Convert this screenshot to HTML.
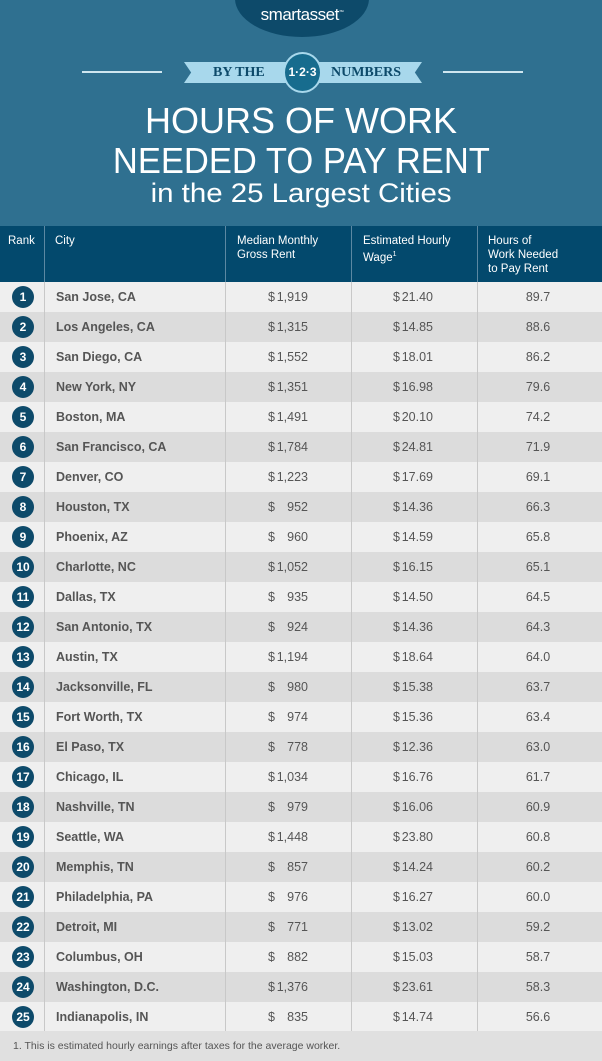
<!DOCTYPE html>
<html><head><meta charset="utf-8"><style>
*{margin:0;padding:0;box-sizing:border-box}
body{width:602px;height:1061px;overflow:hidden;background:#2f7090;font-family:"Liberation Sans",sans-serif;position:relative}
.logo{position:absolute;left:235px;top:-40px;width:134px;height:77px;border-radius:50%;background:#0d4a6a;color:#fff;text-align:center}
.logo span{position:absolute;left:0;right:0;top:45px;font-size:17px;letter-spacing:-0.5px}
.hl{position:absolute;top:71px;height:2px;background:#cfe6f0;width:80px}
.ban{position:absolute;left:184px;top:62px;width:238px;height:21px;background:#a8d8ec;clip-path:polygon(0 0,100% 0,97% 50%,100% 100%,0 100%,3% 50%);color:#0d4a6a;font-family:"Liberation Serif",serif;font-weight:bold;font-size:14px;line-height:22px}
.circ{position:absolute;left:283px;top:52px;width:39px;height:41px;border-radius:50%;background:#176c8e;border:2px solid #a8d8ec;color:#fff;font-size:12px;font-weight:bold;text-align:center;line-height:37px}
.t{position:absolute;left:0;right:0;text-align:center;color:#fff}
.t span{display:inline-block}
.th{position:absolute;top:226px;left:0;width:602px;height:56px;background:#03496d;color:#fff;font-size:11.5px;line-height:14px}
.th div{position:absolute;top:8px}
.vl{position:absolute;width:1px;background:#c8c8c8;top:282px;height:749px}
.vh{position:absolute;width:1px;background:#5c88a2;top:226px;height:56px}
.row{position:absolute;left:0;width:602px;height:30px;font-size:12.5px;color:#555;line-height:30px}
.row .n{position:absolute;left:12px;top:4px;width:22px;height:22px;border-radius:50%;background:#0d4a6a;color:#fff;font-weight:bold;text-align:center;line-height:22px;font-size:12px}
.row .c{position:absolute;left:56px;font-weight:bold}
.row .r{position:absolute;left:268px;width:40px}
.row .w{position:absolute;left:393px;width:40px}
.row .r b,.row .w b{font-weight:normal;position:absolute;right:0}
.row .h{position:absolute;left:478px;width:120px;text-align:center}
.foot{position:absolute;top:1031px;left:0;width:602px;height:30px;background:#e0e0e0;color:#555;font-size:10.5px;line-height:30px;padding-left:13px}
</style></head><body>
<div class="logo"><span>smartasset<sup style="font-size:5px">™</sup></span></div>
<div class="hl" style="left:82px"></div><div class="hl" style="left:443px"></div>
<div class="ban"><span style="position:absolute;left:29px">BY THE</span><span style="position:absolute;left:147px">NUMBERS</span></div>
<div class="circ">1·2·3</div>
<div class="t" style="top:100px;font-size:36px"><span>HOURS OF WORK</span></div>
<div class="t" style="top:140px;font-size:36px"><span style="transform:scaleX(0.96)">NEEDED TO PAY RENT</span></div>
<div class="t" style="top:178px;font-size:27px"><span style="transform:scaleX(1.09)">in the 25 Largest Cities</span></div>
<div class="th">
<div style="left:8px">Rank</div><div style="left:55px">City</div>
<div style="left:237px">Median Monthly<br>Gross Rent</div>
<div style="left:363px">Estimated Hourly<br>Wage<sup style="font-size:7px">1</sup></div>
<div style="left:488px">Hours of<br>Work Needed<br>to Pay Rent</div>
</div>
<div class="vh" style="left:44px"></div><div class="vh" style="left:225px"></div><div class="vh" style="left:351px"></div><div class="vh" style="left:477px"></div>
<div id="rows"></div>
<div class="foot">1. This is estimated hourly earnings after taxes for the average worker.</div>
<script>
var d=[["San Jose, CA","1,919","21.40","89.7"],["Los Angeles, CA","1,315","14.85","88.6"],["San Diego, CA","1,552","18.01","86.2"],["New York, NY","1,351","16.98","79.6"],["Boston, MA","1,491","20.10","74.2"],["San Francisco, CA","1,784","24.81","71.9"],["Denver, CO","1,223","17.69","69.1"],["Houston, TX","952","14.36","66.3"],["Phoenix, AZ","960","14.59","65.8"],["Charlotte, NC","1,052","16.15","65.1"],["Dallas, TX","935","14.50","64.5"],["San Antonio, TX","924","14.36","64.3"],["Austin, TX","1,194","18.64","64.0"],["Jacksonville, FL","980","15.38","63.7"],["Fort Worth, TX","974","15.36","63.4"],["El Paso, TX","778","12.36","63.0"],["Chicago, IL","1,034","16.76","61.7"],["Nashville, TN","979","16.06","60.9"],["Seattle, WA","1,448","23.80","60.8"],["Memphis, TN","857","14.24","60.2"],["Philadelphia, PA","976","16.27","60.0"],["Detroit, MI","771","13.02","59.2"],["Columbus, OH","882","15.03","58.7"],["Washington, D.C.","1,376","23.61","58.3"],["Indianapolis, IN","835","14.74","56.6"]];
var h="";
d.forEach(function(r,i){h+='<div class="row" style="top:'+(282+i*30)+'px;background:'+(i%2?'#dcdcdc':'#efefef')+'"><div class="n">'+(i+1)+'</div><div class="c">'+r[0]+'</div><div class="r">$<b>'+r[1]+'</b></div><div class="w">$<b>'+r[2]+'</b></div><div class="h">'+r[3]+'</div></div>';});
[44,225,351,477].forEach(function(x){h+='<div class="vl" style="left:'+x+'px"></div>';});
document.getElementById("rows").innerHTML=h;
</script>
</body></html>
